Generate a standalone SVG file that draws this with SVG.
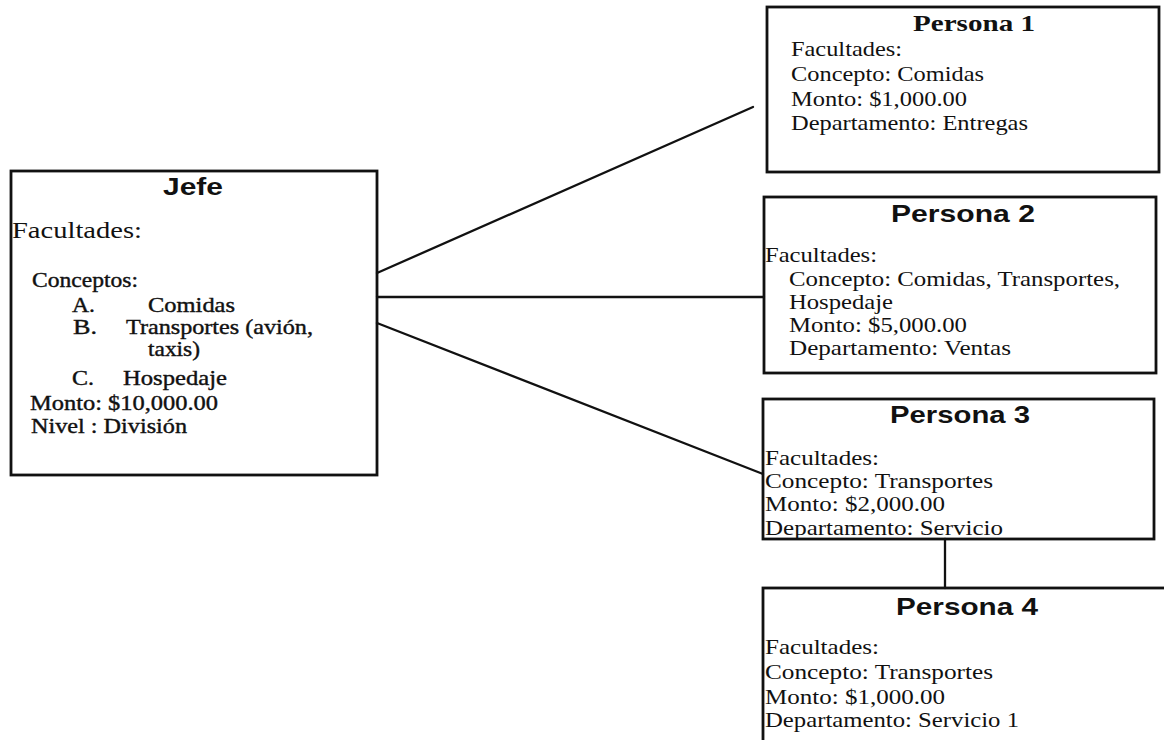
<svg xmlns="http://www.w3.org/2000/svg" width="1164" height="740" viewBox="0 0 1164 740">
  <style>
    .box { fill: none; stroke: #111; stroke-width: 2.8; }
    .link { fill: none; stroke: #111; stroke-width: 2.3; stroke-linecap: round; }
    .title { font-family: "Liberation Sans", Arial, sans-serif; font-weight: bold; font-size: 24px; fill: #111; }
    .title-serif { font-family: "Liberation Serif", "Times New Roman", serif; font-weight: bold; font-size: 23px; fill: #111; }
    .body { font-family: "Liberation Serif", "Times New Roman", serif; font-size: 21.5px; fill: #111; }
    .heavy { stroke: #111; stroke-width: 0.4; }
    .big { font-size: 23px; }
  </style>
  <rect width="1164" height="740" fill="#fff"/>

  <!-- connectors -->
  <g id="connectors">
    <line class="link" x1="377" y1="273" x2="753" y2="107"/>
    <line class="link" x1="377" y1="297" x2="764" y2="297"/>
    <line class="link" x1="377" y1="323" x2="763" y2="474"/>
    <line class="link" x1="945" y1="539" x2="945" y2="588"/>
  </g>

  <!-- Jefe -->
  <g id="jefe">
    <rect class="box" x="11" y="171" width="366" height="304"/>
    <text class="title" x="163" y="195" font-size="22" textLength="60" lengthAdjust="spacingAndGlyphs">Jefe</text>
    <text class="body big" x="12" y="238" textLength="130" lengthAdjust="spacingAndGlyphs">Facultades:</text>
    <g class="body heavy">
      <text x="32" y="287" textLength="106" lengthAdjust="spacingAndGlyphs">Conceptos:</text>
      <text x="72" y="312" textLength="23" lengthAdjust="spacingAndGlyphs">A.</text>
      <text x="148" y="312" textLength="87" lengthAdjust="spacingAndGlyphs">Comidas</text>
      <text x="73" y="334" textLength="24" lengthAdjust="spacingAndGlyphs">B.</text>
      <text x="126" y="334" textLength="187" lengthAdjust="spacingAndGlyphs">Transportes (avión,</text>
      <text x="148" y="356" textLength="52" lengthAdjust="spacingAndGlyphs">taxis)</text>
      <text x="72" y="385" textLength="22" lengthAdjust="spacingAndGlyphs">C.</text>
      <text x="123" y="385" textLength="104" lengthAdjust="spacingAndGlyphs">Hospedaje</text>
      <text x="30" y="410" textLength="188" lengthAdjust="spacingAndGlyphs">Monto: $10,000.00</text>
      <text x="31" y="433" textLength="156" lengthAdjust="spacingAndGlyphs">Nivel : División</text>
    </g>
  </g>

  <!-- Persona 1 -->
  <g id="persona1">
    <rect class="box" x="767" y="7" width="392" height="165"/>
    <text class="title-serif" x="913" y="31" textLength="122" lengthAdjust="spacingAndGlyphs">Persona 1</text>
    <g class="body">
      <text x="791" y="56" textLength="111" lengthAdjust="spacingAndGlyphs">Facultades:</text>
      <text x="791" y="81" textLength="193" lengthAdjust="spacingAndGlyphs">Concepto: Comidas</text>
      <text x="791" y="106" textLength="176" lengthAdjust="spacingAndGlyphs">Monto: $1,000.00</text>
      <text x="791" y="130" textLength="237" lengthAdjust="spacingAndGlyphs">Departamento: Entregas</text>
    </g>
  </g>

  <!-- Persona 2 -->
  <g id="persona2">
    <rect class="box" x="764" y="197" width="392" height="176"/>
    <text class="title" x="891" y="222" textLength="144" lengthAdjust="spacingAndGlyphs">Persona 2</text>
    <g class="body">
      <text x="765" y="262" textLength="112" lengthAdjust="spacingAndGlyphs">Facultades:</text>
      <text x="789" y="286" textLength="331" lengthAdjust="spacingAndGlyphs">Concepto: Comidas, Transportes,</text>
      <text x="789" y="309" textLength="104" lengthAdjust="spacingAndGlyphs">Hospedaje</text>
      <text x="789" y="332" textLength="178" lengthAdjust="spacingAndGlyphs">Monto: $5,000.00</text>
      <text x="789" y="355" textLength="222" lengthAdjust="spacingAndGlyphs">Departamento: Ventas</text>
    </g>
  </g>

  <!-- Persona 3 -->
  <g id="persona3">
    <rect class="box" x="763" y="399" width="391" height="140"/>
    <text class="title" x="890" y="423" textLength="140" lengthAdjust="spacingAndGlyphs">Persona 3</text>
    <g class="body">
      <text x="765" y="465" textLength="114" lengthAdjust="spacingAndGlyphs">Facultades:</text>
      <text x="765" y="488" textLength="228" lengthAdjust="spacingAndGlyphs">Concepto: Transportes</text>
      <text x="765" y="511" textLength="180" lengthAdjust="spacingAndGlyphs">Monto: $2,000.00</text>
      <text x="765" y="535" textLength="238" lengthAdjust="spacingAndGlyphs">Departamento: Servicio</text>
    </g>
  </g>

  <!-- Persona 4 (runs past the right and bottom edges) -->
  <g id="persona4">
    <rect class="box" x="763" y="588" width="420" height="180"/>
    <text class="title" x="896" y="615" textLength="142" lengthAdjust="spacingAndGlyphs">Persona 4</text>
    <g class="body">
      <text x="765" y="654" textLength="114" lengthAdjust="spacingAndGlyphs">Facultades:</text>
      <text x="765" y="679" textLength="228" lengthAdjust="spacingAndGlyphs">Concepto: Transportes</text>
      <text x="765" y="704" textLength="180" lengthAdjust="spacingAndGlyphs">Monto: $1,000.00</text>
      <text x="765" y="727" textLength="254" lengthAdjust="spacingAndGlyphs">Departamento: Servicio 1</text>
    </g>
  </g>
</svg>
